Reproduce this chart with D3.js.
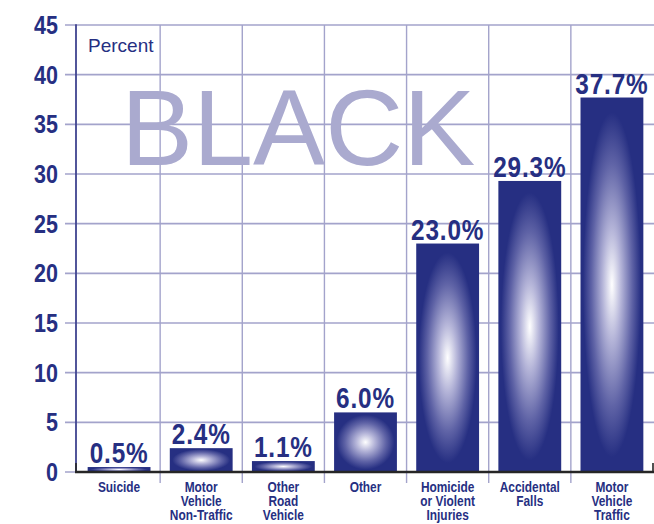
<!DOCTYPE html>
<html>
<head>
<meta charset="utf-8">
<script src="https://cdn.jsdelivr.net/npm/d3@7"></script>
<style>
  html, body { margin: 0; padding: 0; background: #fff; }
  svg { display: block; }
  text { font-family: "Liberation Sans", Arial, sans-serif; }
  .cond { font-weight: bold; }
</style>
</head>
<body>
<svg id="chart" width="654" height="524"></svg>
<script>
// Injury deaths by cause, share of total (percent)
const categories = [
  ["Suicide"],
  ["Motor", "Vehicle", "Non-Traffic"],
  ["Other", "Road", "Vehicle"],
  ["Other"],
  ["Homicide", "or Violent", "Injuries"],
  ["Accidental", "Falls"],
  ["Motor", "Vehicle", "Traffic"]
];
const values = [0.5, 2.4, 1.1, 6.0, 23.0, 29.3, 37.7];
const yTicks = [0, 5, 10, 15, 20, 25, 30, 35, 40, 45];
const title = "BLACK";
const unitLabel = "Percent";

const navy = "#262f82";
const grid = "#a3a3cb";

const svg = d3.select("#chart");
const plotLeft = 76, plotRight = 653, plotTop = 25, plotBottom = 472;

const x = d3.scaleBand()
  .domain(d3.range(values.length))
  .range([78, plotRight])
  .paddingInner(0.235)
  .paddingOuter(0.1175);
const y = d3.scaleLinear().domain([0, 45]).range([plotBottom, plotTop]);

// condensed bold text: horizontal squeeze of the regular bold face
const squeeze = (px, py, s) => `translate(${px},${py}) scale(${s},1)`;

// gradients: white core fading to navy at the bar edges
const defs = svg.append("defs");
const grad = defs.append("radialGradient")
  .attr("id", "barGlow")
  .attr("cx", 0.5).attr("cy", 0.5).attr("r", 0.5);
grad.append("stop").attr("offset", "0%").attr("stop-color", "#ffffff");
grad.append("stop").attr("offset", "30%").attr("stop-color", "#b4b4d8");
grad.append("stop").attr("offset", "65%").attr("stop-color", "#5f63a6");
grad.append("stop").attr("offset", "92%").attr("stop-color", navy);
grad.append("stop").attr("offset", "100%").attr("stop-color", navy);

// horizontal grid lines with ticks past the left axis
svg.append("g")
  .selectAll("line")
  .data(yTicks)
  .join("line")
  .attr("x1", 65).attr("x2", 654)
  .attr("y1", d => y(d)).attr("y2", d => y(d))
  .attr("stroke", grid).attr("stroke-width", 1.6);

// vertical grid lines at category boundaries
const step = x.step();
const bounds = d3.range(1, values.length).map(i => x.range()[0] + i * step);
svg.append("g")
  .selectAll("line")
  .data(bounds)
  .join("line")
  .attr("x1", d => d).attr("x2", d => d)
  .attr("y1", plotTop).attr("y2", 483)
  .attr("stroke", grid).attr("stroke-width", 1.4);

// title watermark
svg.append("text")
  .attr("x", 121).attr("y", 165)
  .attr("font-size", 108)
  .attr("fill", "#aaaacf")
  .text(title);

svg.append("text")
  .attr("x", 88).attr("y", 52)
  .attr("font-size", 19)
  .attr("fill", navy)
  .text(unitLabel);

// left axis line
svg.append("line")
  .attr("x1", plotLeft).attr("x2", plotLeft)
  .attr("y1", plotTop - 0.8).attr("y2", plotBottom)
  .attr("stroke", "#3f438f").attr("stroke-width", 1.8);

// bars
svg.append("g")
  .selectAll("rect")
  .data(values)
  .join("rect")
  .attr("x", (d, i) => x(i))
  .attr("width", x.bandwidth())
  .attr("y", d => y(d))
  .attr("height", d => plotBottom - y(d))
  .attr("fill", "url(#barGlow)");

// value labels
svg.append("g")
  .selectAll("text")
  .data(values)
  .join("text")
  .attr("class", "cond")
  .attr("transform", (d, i) => squeeze(x(i) + x.bandwidth() / 2, y(d) - 4, 0.84))
  .attr("text-anchor", "middle")
  .attr("font-size", 29)
  .attr("letter-spacing", 1)
  .attr("fill", navy)
  .text(d => d.toFixed(1) + "%");

// baseline
svg.append("line")
  .attr("x1", plotLeft - 1).attr("x2", plotRight + 1)
  .attr("y1", plotBottom).attr("y2", plotBottom)
  .attr("stroke", "#262626").attr("stroke-width", 2.6);
[plotLeft, plotRight].forEach(px => {
  svg.append("line")
    .attr("x1", px).attr("x2", px)
    .attr("y1", 463).attr("y2", plotBottom)
    .attr("stroke", "#262626").attr("stroke-width", 1.6);
});

// y tick labels
svg.append("g")
  .selectAll("text")
  .data(yTicks)
  .join("text")
  .attr("class", "cond")
  .attr("transform", d => squeeze(58, y(d), 0.86))
  .attr("dy", "0.36em")
  .attr("text-anchor", "end")
  .attr("font-size", 25)
  .attr("fill", navy)
  .text(d => d);

// category labels
const cat = svg.append("g")
  .selectAll("text")
  .data(categories)
  .join("text")
  .attr("class", "cond")
  .attr("transform", (d, i) => squeeze(x(i) + x.bandwidth() / 2, 492, 0.85))
  .attr("text-anchor", "middle")
  .attr("font-size", 14)
  .attr("fill", navy);
cat.each(function(lines) {
  const t = d3.select(this);
  lines.forEach((ln, j) => {
    t.append("tspan")
      .attr("x", 0)
      .attr("y", j * 14)
      .text(ln);
  });
});
</script>
</body>
</html>
